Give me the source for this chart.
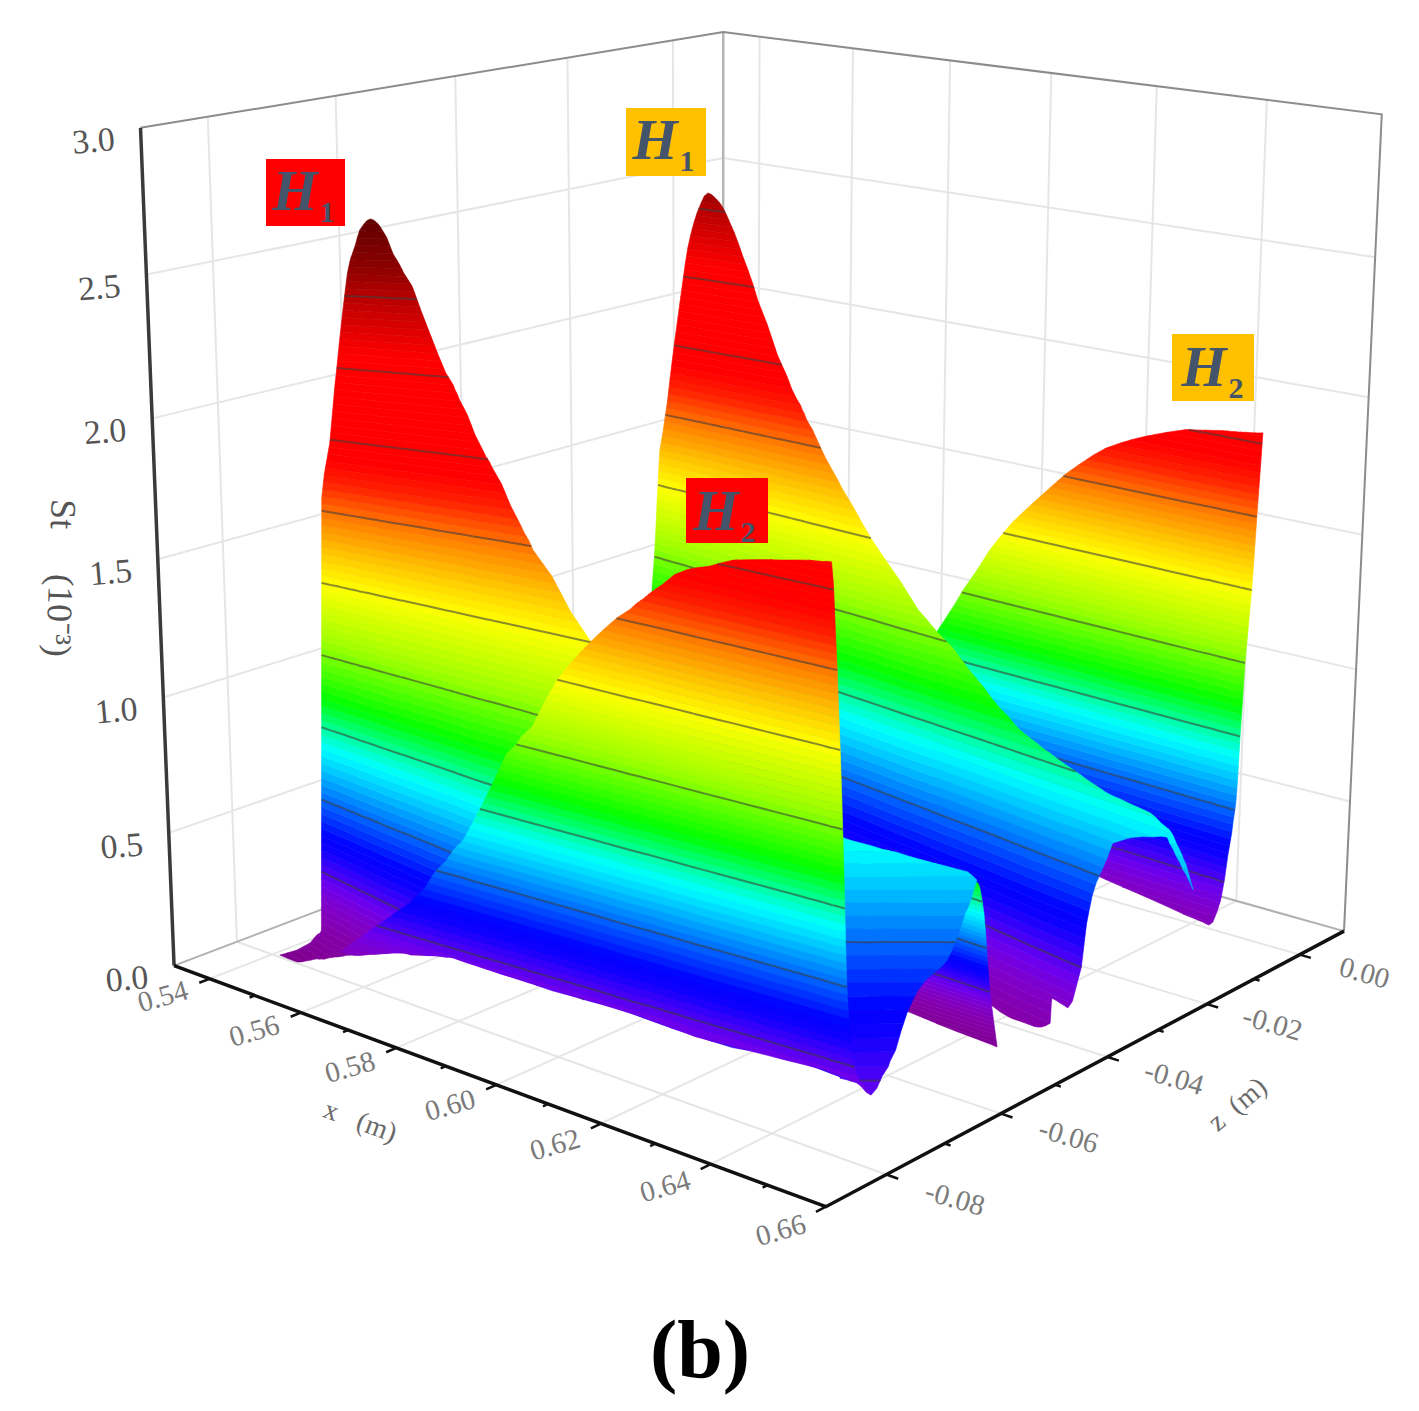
import numpy as np, pandas as pd, altair as alt

# camera that maps (x [m], z [m], St [10^-3]) of the 3D box to the drawing plane
CAMERA = np.array([[2447.587955, 3884.014964, -8.094293, -851.265308],
                   [342.220485, -494.270994, -163.961771, 335.391195],
                   [-0.624376, 0.954752, -0.011301, 1.0]])
X_MIN, X_MAX, Z_MIN, Z_MAX, ST_MAX = 0.532, 0.66, -0.09, 0.01, 3.0
X_TICKS = [0.54, 0.56, 0.58, 0.60, 0.62, 0.64, 0.66]
X_LABELS = ["0.54", "0.56", "0.58", "0.60", "0.62", "0.64", "0.66"]
Z_TICKS = [0.0, -0.02, -0.04, -0.06, -0.08]
Z_LABELS = ["0.00", "-0.02", "-0.04", "-0.06", "-0.08"]
ST_TICKS = [0.0, 0.5, 1.0, 1.5, 2.0, 2.5, 3.0]
ST_LABELS = ["0.0", "0.5", "1.0", "1.5", "2.0", "2.5", "3.0"]
CONTOURS = [0.25, 0.5, 0.75, 1.0, 1.25, 1.5, 1.75, 2.0, 2.25]

# surface sheets: x (1e-4 m), z at St=0 and z at St=1.5 (1e-4 m), St at upper and lower edge (1e-6)
D_x = [5924,5985,6071,6134,6205,6286,6378,6477,6488,6511,6532,6540,6548,6557,6570,6580,6591]
D_z0 = [-32,-35,-40,-44,-48,-53,-58,-64,-64,-66,-67,-67,-68,-68,-69,-70,-70]
D_z1 = [182,183,184,186,187,188,189,190,191,191,191,191,191,191,191,192,192]
D_top = [821,1010,1250,1381,1514,1631,1708,1758,1761,1768,1772,1774,1775,1778,1781,1783,1787]
D_bot = [206,193,175,163,149,131,113,94,90,186,420,534,748,1000,1250,1499,1787]

C_x = [5556,5565,5573,5578,5592,5614,5633,5655,5680,5709,5741,5768,5802,5841,5916,5949,5966,6011,6055,6121,6193,6256,6279,6384,6441,6466,6503,6531,6535,6558,6569,6597,6609,6626,6636,6651,6663,6719,6739,6773,6779,6799,6805,6825]
C_z0 = [-254,-256,-257,-258,-261,-265,-268,-272,-277,-282,-288,-293,-299,-307,-320,-326,-330,-338,-346,-358,-372,-383,-388,-407,-418,-423,-430,-435,-436,-440,-442,-447,-450,-453,-455,-457,-460,-470,-474,-481,-482,-485,-487,-490]
C_z1 = [197,198,199,200,201,203,206,208,211,214,217,220,223,227,234,237,239,243,246,252,257,262,264,271,275,276,278,280,280,281,282,283,284,285,285,286,287,289,290,291,292,292,293,293]
C_top = [884,1034,1257,1373,1482,1709,1904,2108,2234,2311,2280,2213,2099,1957,1712,1627,1582,1474,1381,1253,1143,1047,1020,901,839,813,792,777,774,762,757,745,739,732,728,721,719,711,708,686,682,639,626,554]
C_bot = [19,20,21,22,23,27,29,32,35,39,44,47,52,57,66,70,73,78,84,92,101,85,80,55,41,45,51,76,141,137,135,251,368,468,503,554,597,638,647,662,649,609,596,554]

E_x = [6136,6272,6397,6408,6418,6432]
E_z0 = [-429,-430,-431,-431,-431,-431]
E_z1 = [-1061,-1067,-1072,-1073,-1073,-1073]
E_top = [667,758,843,692,278,-75]
E_bot = [-7,-37,-66,-69,-71,-75]

B_x = [5305,5355,5393,5422,5425,5427,5450,5464,5484,5507,5515,5535,5563,5590,5645,5653,5726,5786,5804,5864,5887,5957,5990,6128,6222,6268,6374,6381,6596,6686]
B_z0 = [-719,-727,-733,-738,-738,-739,-743,-745,-748,-752,-753,-757,-761,-766,-775,-776,-788,-798,-802,-812,-815,-827,-833,-857,-873,-881,-899,-900,-938,-954]
B_z1 = [-589,-572,-560,-551,-550,-549,-542,-537,-531,-524,-521,-515,-506,-498,-481,-478,-456,-438,-432,-415,-408,-387,-378,-339,-313,-301,-273,-271,-218,-196]
B_top = [-125,-71,-19,35,47,1545,1736,1934,2173,2371,2403,2478,2516,2493,2362,2339,2134,1976,1929,1777,1724,1562,1489,1256,1168,1126,1044,1039,932,907]
B_bot = [-125,-113,-80,-56,-53,-51,-31,-19,-3,16,22,36,56,75,112,117,153,182,186,198,202,216,223,253,273,279,293,295,347,356]

K_x = [6657,6674,6688,6704,6706,6723,6739,6750,6763,6775,6783,6785,6788,6792]
K_z0 = [-932,-921,-912,-900,-899,-888,-877,-870,-862,-853,-848,-847,-845,-842]
K_z1 = [488,499,508,520,521,532,543,550,559,568,573,574,576,579]
K_top = [703,693,686,676,675,666,657,651,645,638,634,631,626,618]
K_bot = [254,246,225,273,283,369,424,443,466,523,564,574,593,618]

A_x = [5572,5598,5632,5671,5697,5716,5782,5793,5854,5915,5920,5989,6053,6122,6157,6223,6240,6303,6388,6455,6470,6479,6484,6489,6495,6504,6512,6535]
A_z0 = [-817,-815,-813,-811,-810,-809,-805,-804,-801,-797,-797,-793,-789,-786,-783,-780,-779,-775,-770,-766,-766,-765,-765,-765,-764,-764,-763,-762]
A_z1 = [-696,-696,-695,-694,-694,-693,-692,-692,-690,-689,-689,-687,-686,-684,-683,-681,-681,-679,-677,-675,-675,-674,-674,-674,-674,-674,-673,-673]
A_top = [121,168,228,294,340,376,546,584,785,1005,1024,1249,1409,1539,1607,1709,1723,1773,1808,1831,1836,1500,1259,976,500,292,220,175]
A_bot = [121,124,144,168,183,190,213,217,213,210,210,209,209,209,204,197,195,199,205,210,207,206,205,204,203,202,200,175]

SHEETS = [("D", D_x, D_z0, D_z1, D_top, D_bot), ("C", C_x, C_z0, C_z1, C_top, C_bot),
          ("E", E_x, E_z0, E_z1, E_top, E_bot), ("B", B_x, B_z0, B_z1, B_top, B_bot),
          ("K", K_x, K_z0, K_z1, K_top, K_bot), ("A", A_x, A_z0, A_z1, A_top, A_bot)]

# rainbow colour map of St
CMAP_ST = [-0.15, 0.05, 0.15, 0.22, 0.33, 0.38, 0.5, 0.6, 0.68, 0.76, 0.85, 1.05, 1.25, 1.37, 1.48, 1.6, 1.68, 2.05, 2.25, 2.35, 2.55]
CMAP_HEX = ["#7d0088", "#8500a8", "#7f00cc", "#6a00f0", "#1000ff", "#0000ff", "#0068ff", "#00c0ff", "#00ffff", "#00ff90",
            "#00ff00", "#a0ff00", "#ffff00", "#ffc000", "#ff8000", "#ff2000", "#ff0000", "#ff0000", "#b80000", "#8c0000", "#580000"]
BAND = 0.025
SMOOTH = 3  # curve steps between two read stations, as a monotone line would draw them

# annotations on the drawing plane
BOX_LEFT = [266, 686, 626, 1172]; BOX_RIGHT = [345, 768, 706, 1254]
BOX_TOP = [159, 478, 108, 334]; BOX_BOTTOM = [226, 543, 176, 401]
BOX_FILL = ["#ff0000", "#ff0000", "#ffc000", "#ffc000"]
H_X = [295, 716, 655, 1204]; H_Y = [193, 513, 142, 369]
SUB_X = [327, 748, 687, 1236]; SUB_Y = [213, 533, 162, 389]
SUB_TEXT = ["1", "2", "1", "2"]

def project(x, z, s):
    h = CAMERA @ np.array([x, z, s, 1.0])
    return h[0] / h[2], h[1] / h[2]

def surf_xy(x, z0, z1, s):
    return project(x, z0, 0)[0], project(x, z0 + (z1 - z0) * s / 1.5, s)[1]

def rgb(h):
    return [int(h[i:i + 2], 16) for i in (1, 3, 5)]
_cm = np.array([rgb(c) for c in CMAP_HEX], float)
def colour(s):
    return "#%02x%02x%02x" % tuple(int(round(np.interp(s, CMAP_ST, _cm[:, i]))) for i in range(3))

def monotone(v, t):
    v = np.asarray(v, float); d = np.diff(v)
    m = np.zeros_like(v); m[0] = d[0]; m[-1] = d[-1]
    for i in range(1, len(v) - 1):
        if d[i - 1] * d[i] > 0:
            m[i] = 2 * d[i - 1] * d[i] / (d[i - 1] + d[i])
    i = np.minimum(t.astype(int), len(v) - 2); u = t - i
    return ((2*u**3 - 3*u**2 + 1) * v[i] + (u**3 - 2*u**2 + u) * m[i]
            + (-2*u**3 + 3*u**2) * v[i + 1] + (u**3 - u**2) * m[i + 1])

def breakpoints(top, bot, levels):
    ts = list(range(len(top)))
    for i in range(len(top) - 1):
        for arr in (top, bot):
            for L in levels:
                d0, d1 = arr[i] - L, arr[i + 1] - L
                if d0 * d1 < 0:
                    ts.append(i + d0 / (d0 - d1))
    return sorted(set(ts))

def sheet_frames(name, xs, z0s, z1s, tops, bots):
    n0 = len(xs); t0 = np.arange(n0)
    tt = np.linspace(0, n0 - 1, (n0 - 1) * SMOOTH + 1)
    xs = np.interp(tt, t0, np.array(xs) * 1e-4); z0s = np.interp(tt, t0, np.array(z0s) * 1e-4)
    z1s = np.interp(tt, t0, np.array(z1s) * 1e-4)
    tops = monotone(np.array(tops) * 1e-3, tt); bots = monotone(np.array(bots) * 1e-3, tt)
    idx = np.arange(len(xs))
    def at(t):
        return [float(np.interp(t, idx, a)) for a in (xs, z0s, z1s, tops, bots)]
    rows = []
    lo = np.floor(min(bots.min(), tops.min()) / BAND) * BAND
    levels = np.arange(lo, tops.max() + BAND, BAND)
    for a in levels:
        b = a + BAND
        ts = breakpoints(tops, bots, [a, b])
        seg = 0; run = []
        def flush(run, seg):
            if len(run) > 1 and any(r[3] - r[4] > 1e-6 for r in run):
                for (px, yu, yl, _, _) in run:
                    rows.append(dict(px=round(px, 2), py=round(yu, 2), py2=round(yl, 2), g=f"{a:.3f}_{seg}", c=colour(a + BAND / 2)))
        for t in ts:
            x, z0, z1, tp, bt = at(t)
            u, l = min(tp, b), max(bt, a)
            if u >= l - 1e-9:
                u = max(u, l)
                px = surf_xy(x, z0, z1, 0)[0]
                run.append((px, surf_xy(x, z0, z1, u)[1], surf_xy(x, z0, z1, l)[1], u, l))
            else:
                flush(run, seg); seg += 1; run = []
        flush(run, seg)
    crow = []
    for L in CONTOURS:
        ts = breakpoints(tops, bots, [L])
        seg = 0; n = 0
        for t in ts:
            x, z0, z1, tp, bt = at(t)
            if bt - 1e-9 <= L <= tp + 1e-9:
                px, py = surf_xy(x, z0, z1, L)
                crow.append(dict(px=round(px, 2), py=round(py, 2), g=f"{L}_{seg}", i=n)); n += 1
            else:
                seg += 1; n = 0
    return pd.DataFrame(rows), pd.DataFrame(crow)

XS = alt.X("px:Q", axis=None, scale=alt.Scale(domain=[8, 1411], nice=False, zero=False))
YS = alt.Y("py:Q", axis=None, scale=alt.Scale(domain=[8, 1398], reverse=True, nice=False, zero=False))

def lines(segments, color, width):
    rows = []
    for g, seg in enumerate(segments):
        for i, pt in enumerate(seg):
            px, py = project(*pt)
            rows.append(dict(px=px, py=py, g=g, i=i))
    return alt.Chart(pd.DataFrame(rows)).mark_line(color=color, strokeWidth=width).encode(XS, YS, detail="g:N", order="i:Q")

def texts(px, py, labels, size, angle=0, color="#555555", weight="normal", style="normal", dx=0, dy=0):
    df = pd.DataFrame(dict(px=px, py=py, t=labels))
    return alt.Chart(df).mark_text(font="Liberation Serif", fontSize=size, angle=angle, color=color, fontWeight=weight,
                                   fontStyle=style, dx=dx, dy=dy, align="center", baseline="middle").encode(XS, YS, text="t:N")

GRID = "#e6e6e6"
layers = []
# floor and wall grids
grid = []
for z in Z_TICKS:
    grid.append([(X_MIN, z, 0), (X_MIN, z, ST_MAX)])
    grid.append([(X_MIN, z, 0), (X_MAX, z, 0)])
for x in X_TICKS[:-1]:
    grid.append([(x, Z_MAX, 0), (x, Z_MAX, ST_MAX)])
for x in X_TICKS:
    grid.append([(x, Z_MIN, 0), (x, Z_MAX, 0)])
for s in ST_TICKS[1:-1]:
    grid.append([(X_MIN, Z_MIN, s), (X_MIN, Z_MAX, s)])
    grid.append([(X_MIN, Z_MAX, s), (X_MAX, Z_MAX, s)])
layers.append(lines(grid, GRID, 2))
layers.append(lines([[(X_MIN, Z_MIN, 0), (X_MIN, Z_MAX, 0), (X_MAX, Z_MAX, 0)]], "#b0b0b0", 2))
layers.append(lines([[(X_MIN, Z_MAX, 0), (X_MIN, Z_MAX, ST_MAX)]], "#b5b5b5", 2.5))
layers.append(lines([[(X_MIN, Z_MIN, ST_MAX), (X_MIN, Z_MAX, ST_MAX), (X_MAX, Z_MAX, ST_MAX), (X_MAX, Z_MAX, 0)]], "#8c8c8c", 2))

# surface
for sh in SHEETS:
    band_df, cont_df = sheet_frames(*sh)
    layers.append(alt.Chart(band_df).mark_area(strokeWidth=0.6).encode(
        XS, YS, y2="py2:Q", color=alt.Color("c:N", scale=None), stroke=alt.Stroke("c:N", scale=None),
        detail="g:N"))
    if len(cont_df):
        layers.append(alt.Chart(cont_df).mark_line(color="#3c3c3c", opacity=0.58, strokeWidth=2).encode(
            XS, YS, detail="g:N", order="i:Q"))

# axes
layers.append(lines([[(X_MIN, Z_MIN, 0), (X_MIN, Z_MIN, ST_MAX)]], "#3a3a3a", 3.5))
layers.append(lines([[(X_MIN, Z_MIN, 0), (X_MAX, Z_MIN, 0), (X_MAX, Z_MAX, 0)]], "#111111", 3.5))
ticks = []
for x in X_TICKS:
    ticks.append([(x, Z_MIN, 0), (x, Z_MIN - 0.0016, 0)])
for x in [0.55, 0.57, 0.59, 0.61, 0.63, 0.65]:
    ticks.append([(x, Z_MIN, 0), (x, Z_MIN - 0.0008, 0)])
for z in Z_TICKS:
    ticks.append([(X_MAX, z, 0), (X_MAX + 0.002, z, 0)])
for z in [-0.01, -0.03, -0.05, -0.07]:
    ticks.append([(X_MAX, z, 0), (X_MAX + 0.001, z, 0)])
layers.append(lines(ticks, "#111111", 2.5))

def pts(seq):
    p = [project(*q) for q in seq]
    return [a for a, _ in p], [b for _, b in p]

sx, sy = pts([(X_MIN, Z_MIN, s) for s in ST_TICKS])
layers.append(texts(sx, sy, ST_LABELS, 34, angle=355, dx=-48, dy=10))
lx, ly = pts([(x, Z_MIN - 0.0072, 0) for x in X_TICKS])
layers.append(texts(lx, ly, X_LABELS, 29, angle=344, color="#7a7a7a"))
lx, ly = pts([(X_MAX + 0.0115, z, 0) for z in Z_TICKS])
layers.append(texts(lx, ly, Z_LABELS, 29, angle=16, color="#7a7a7a"))
layers.append(texts([60], [578], ["St\u00a0\u00a0\u00a0\u00a0\u00a0(10⁻³)"], 36, angle=92))
layers.append(texts([360], [1122], ["x\u00a0\u00a0\u00a0(m)"], 28, angle=20, color="#6a6a6a"))
layers.append(texts([1238], [1105], ["z\u00a0\u00a0(m)"], 28, angle=320, color="#6a6a6a"))

# peak labels
box = pd.DataFrame(dict(px=BOX_LEFT, px2=BOX_RIGHT, py=BOX_TOP, py2=BOX_BOTTOM, c=BOX_FILL))
layers.append(alt.Chart(box).mark_rect().encode(XS, x2="px2:Q", y=YS, y2="py2:Q", color=alt.Color("c:N", scale=None)))
layers.append(texts(H_X, H_Y, ["H"] * 4, 58, color="#44546a", weight="bold", style="italic"))
layers.append(texts(SUB_X, SUB_Y, SUB_TEXT, 30, color="#44546a", weight="bold"))
layers.append(texts([700], [1352], ["(b)"], 82, color="#000000", weight="bold"))

chart = alt.layer(*layers).properties(width=1403, height=1390, padding=0,
                                      autosize=alt.AutoSizeParams(type="none")).configure_view(stroke=None)
chart.save("out.html", embed_options={"renderer": "svg", "actions": False})
